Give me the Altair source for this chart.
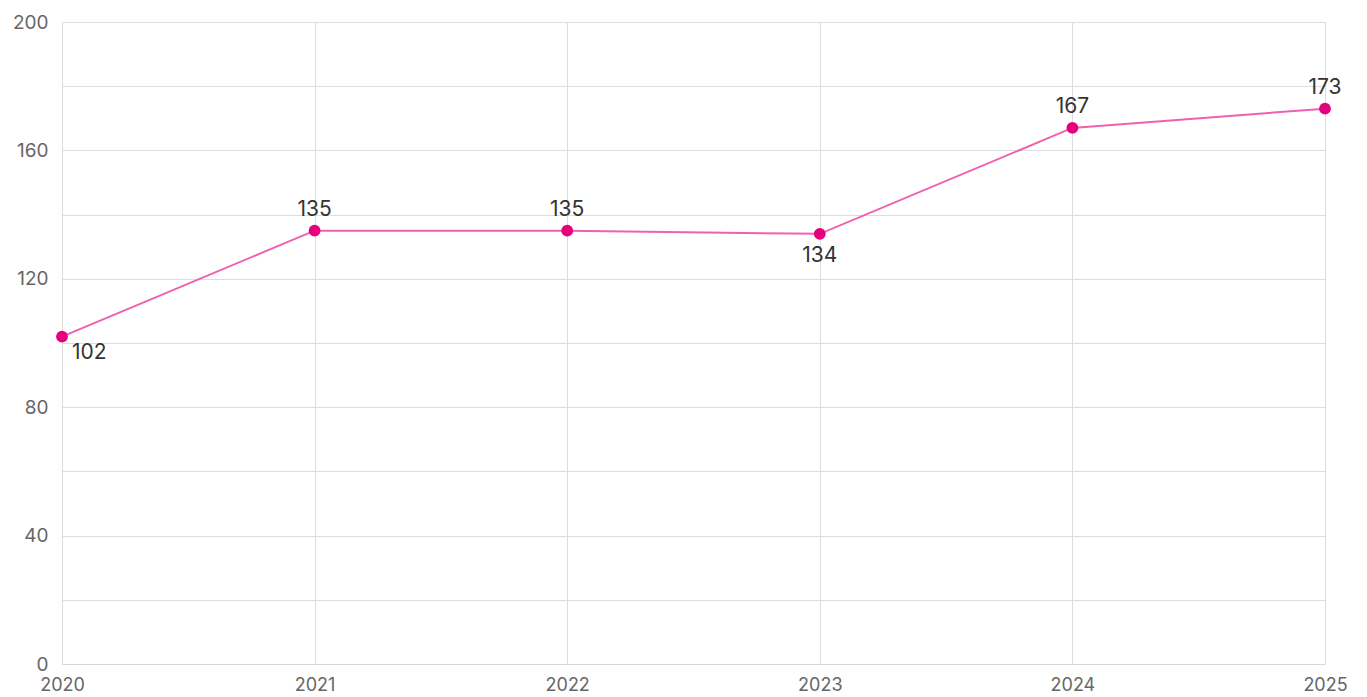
import altair as alt
import pandas as pd

years = [2020, 2021, 2022, 2023, 2024, 2025]
values = [102, 135, 135, 134, 167, 173]
below_years = [2020, 2023]

df = pd.DataFrame({"year": years, "value": values})

FONT = "Inter"

x = alt.X("year:Q", scale=alt.Scale(domain=[2020, 2025], nice=False, zero=False),
          axis=alt.Axis(values=years, format="d", title=None, tickSize=0, labelPadding=12,
                        labelFontSize=18, labelColor="#666666", labelFont=FONT,
                        domainColor="#d9d9d9", gridColor="#dddddd", labelFlush=False))
y = alt.Y("value:Q", scale=alt.Scale(domain=[0, 200], nice=False),
          axis=alt.Axis(values=list(range(0, 201, 20)),
                        labelExpr="datum.value % 40 == 0 ? datum.label : ''",
                        title=None, tickSize=0, labelPadding=14, domain=False,
                        labelFontSize=19, labelColor="#666666", labelFont=FONT,
                        gridColor="#dddddd"))

base = alt.Chart(df)

line = base.mark_line(color="#f060b0", strokeWidth=2).encode(x=x, y=y)
pts = base.mark_point(filled=True, color="#e6007e", size=140, opacity=1, shape="circle").encode(x=x, y=y)

above = base.transform_filter(
    alt.FieldOneOfPredicate(field="year", oneOf=[yv for yv in years if yv not in below_years])
).mark_text(dy=-11, baseline="bottom", fontSize=21, color="#333333", font=FONT).encode(
    x=x, y=y, text="value:Q")

below_first = base.transform_filter(alt.datum.year == 2020).mark_text(
    dx=10, dy=5, align="left", baseline="top", fontSize=21, color="#333333", font=FONT
).encode(x=x, y=y, text="value:Q")

below_mid = base.transform_filter(
    alt.FieldOneOfPredicate(field="year", oneOf=[yv for yv in below_years if yv != 2020])
).mark_text(dy=11, baseline="top", fontSize=21, color="#333333", font=FONT).encode(
    x=x, y=y, text="value:Q")

chart = alt.layer(line, pts, above, below_first, below_mid).properties(
    width=1263, height=642,
    autosize=alt.AutoSizeParams(type="none"),
    padding={"left": 54, "top": 14, "right": 34, "bottom": 30},
).configure_view(stroke=None).configure(background="white")

chart.save("out.html", embed_options={"renderer": "svg", "actions": False})
